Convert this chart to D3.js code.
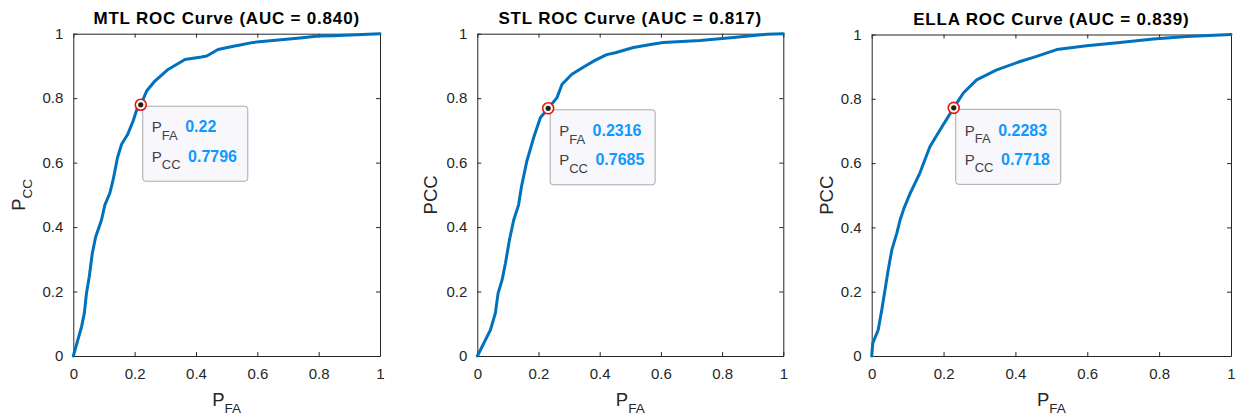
<!DOCTYPE html>
<html><head><meta charset="utf-8">
<script src="https://cdn.jsdelivr.net/npm/d3@7"></script>
<style>
body{margin:0;background:#fff}
svg{display:block}
text{font-family:"Liberation Sans",Arial,Helvetica,sans-serif}
</style>
</head><body>
<svg id="c" width="1236" height="416"></svg>
<script>
// ---------- data ----------
const titles = ["MTL ROC Curve (AUC = 0.840)", "STL ROC Curve (AUC = 0.817)", "ELLA ROC Curve (AUC = 0.839)"];
const yLabelMain = ["P", "PCC", "PCC"];
const yLabelSub = ["CC", "", ""];
const xLabelMain = "P";
const xLabelSub = "FA";
const tickValues = [0, 0.2, 0.4, 0.6, 0.8, 1];
const tickLabels = ["0", "0.2", "0.4", "0.6", "0.8", "1"];

const mtlFA = [0, 0.027, 0.036, 0.043, 0.052, 0.062, 0.073, 0.092, 0.103, 0.119, 0.130, 0.144, 0.157, 0.177, 0.195, 0.209, 0.220, 0.239, 0.266, 0.309, 0.364, 0.418, 0.435, 0.472, 0.522, 0.544, 0.587, 0.739, 0.799, 0.848, 1];
const mtlCC = [0, 0.091, 0.133, 0.195, 0.246, 0.319, 0.370, 0.422, 0.469, 0.505, 0.547, 0.615, 0.656, 0.687, 0.729, 0.770, 0.7796, 0.822, 0.853, 0.889, 0.920, 0.928, 0.931, 0.951, 0.961, 0.965, 0.973, 0.987, 0.993, 0.994, 1];

const stlFA = [0, 0.002, 0.021, 0.043, 0.059, 0.068, 0.081, 0.092, 0.105, 0.119, 0.135, 0.144, 0.162, 0.184, 0.206, 0.2316, 0.260, 0.277, 0.309, 0.353, 0.386, 0.423, 0.451, 0.510, 0.571, 0.608, 0.728, 0.837, 0.946, 1];
const stlCC = [0, 0.003, 0.039, 0.081, 0.133, 0.195, 0.236, 0.288, 0.360, 0.422, 0.469, 0.524, 0.605, 0.677, 0.739, 0.7685, 0.801, 0.843, 0.874, 0.900, 0.918, 0.935, 0.941, 0.957, 0.967, 0.973, 0.979, 0.988, 0.998, 1];

const ellaFA = [0, 0.003, 0.018, 0.028, 0.037, 0.046, 0.056, 0.070, 0.079, 0.090, 0.107, 0.134, 0.162, 0.190, 0.2283, 0.255, 0.292, 0.348, 0.413, 0.459, 0.515, 0.598, 0.691, 0.784, 0.877, 1];
const ellaCC = [0, 0.040, 0.081, 0.143, 0.205, 0.268, 0.330, 0.382, 0.423, 0.460, 0.506, 0.569, 0.651, 0.703, 0.7718, 0.818, 0.859, 0.890, 0.916, 0.932, 0.953, 0.965, 0.975, 0.986, 0.994, 1];

const tipFA = [0.22, 0.2316, 0.2283];
const tipCC = [0.7796, 0.7685, 0.7718];

// ---------- drawing ----------
const seriesFA = [mtlFA, stlFA, ellaFA];
const seriesCC = [mtlCC, stlCC, ellaCC];
const layouts = [
  {l: 73.3, r: 380, t: 33.7, b: 356, ylx: 25},
  {l: 477.3, r: 783.3, t: 33.7, b: 356, ylx: 436.7},
  {l: 871.7, r: 1231, t: 34.5, b: 356, ylx: 832.7}
];
const axisColor = "#262626";
const svg = d3.select("#c");

layouts.forEach((L, i) => {
  const g = svg.append("g");
  const x = d3.scaleLinear().domain([0, 1]).range([L.l, L.r]);
  const y = d3.scaleLinear().domain([0, 1]).range([L.b, L.t]);
  const fmt = d => tickLabels[tickValues.indexOf(d)];

  const styleAxis = sel => {
    sel.attr("font-size", 15).attr("fill", "none");
    sel.select(".domain").attr("stroke", axisColor).attr("stroke-width", 1);
    sel.selectAll(".tick line").attr("stroke", axisColor).attr("stroke-width", 1);
    sel.selectAll(".tick text").attr("fill", axisColor);
  };

  g.append("g").attr("transform", `translate(0,${L.b})`)
    .call(d3.axisBottom(x).tickValues(tickValues).tickFormat(fmt).tickSizeInner(-4).tickSizeOuter(0).tickPadding(12))
    .call(styleAxis);
  g.append("g").attr("transform", `translate(0,${L.t})`)
    .call(d3.axisTop(x).tickValues(tickValues).tickFormat("").tickSizeInner(-4).tickSizeOuter(0))
    .call(styleAxis);
  g.append("g").attr("transform", `translate(${L.l},0)`)
    .call(d3.axisLeft(y).tickValues(tickValues).tickFormat(fmt).tickSizeInner(-4).tickSizeOuter(0).tickPadding(10))
    .call(styleAxis);
  g.append("g").attr("transform", `translate(${L.r},0)`)
    .call(d3.axisRight(y).tickValues(tickValues).tickFormat("").tickSizeInner(-4).tickSizeOuter(0))
    .call(styleAxis);

  // title
  g.append("text").attr("x", (L.l + L.r) / 2).attr("y", L.t - 9.5)
    .attr("text-anchor", "middle").attr("font-weight", "bold").attr("font-size", 17)
    .attr("letter-spacing", "0.8px").attr("fill", "#000").text(titles[i]);

  // x label
  const xl = g.append("text").attr("x", (L.l + L.r) / 2).attr("y", 406)
    .attr("text-anchor", "middle").attr("fill", axisColor).attr("font-size", 18.5);
  xl.append("tspan").text(xLabelMain);
  xl.append("tspan").attr("font-size", 13.5).attr("dy", 7).text(xLabelSub);

  // y label
  const yl = g.append("text").attr("transform", `translate(${L.ylx},${(L.t + L.b) / 2}) rotate(-90)`)
    .attr("text-anchor", "middle").attr("fill", axisColor).attr("font-size", 18.5);
  yl.append("tspan").text(yLabelMain[i]);
  if (yLabelSub[i]) yl.append("tspan").attr("font-size", 13.5).attr("dy", 7).text(yLabelSub[i]);

  // curve
  const pts = seriesFA[i].map((v, k) => [v, seriesCC[i][k]]);
  g.append("path").datum(pts)
    .attr("d", d3.line().x(d => x(d[0])).y(d => y(d[1])))
    .attr("fill", "none").attr("stroke", "#0072BD").attr("stroke-width", 3)
    .attr("stroke-linejoin", "round").attr("stroke-linecap", "round");

  // datatip
  const mx = x(tipFA[i]), my = y(tipCC[i]);
  const bx = mx + 2, by = my + 1.5;
  g.append("rect").attr("x", bx).attr("y", by).attr("width", 105).attr("height", 75).attr("rx", 3)
    .attr("fill", "#f8f8fc").attr("stroke", "#a8a8a8").attr("stroke-width", 1);
  const rows = [[xLabelSub, tipFA[i], 26.2], ["CC", tipCC[i], 55.4]];
  rows.forEach(r => {
    const t = g.append("text").attr("x", bx + 9).attr("y", by + r[2]);
    t.append("tspan").attr("font-size", 15).attr("fill", "#404040").text("P");
    t.append("tspan").attr("font-size", 13).attr("fill", "#404040").attr("dy", 7.5).text(r[0]);
    t.append("tspan").attr("font-size", 16).attr("font-weight", "bold").attr("fill", "#0f99ff")
      .attr("dy", -7.5).attr("dx", 7.5).text(String(r[1]));
  });
  g.append("circle").attr("cx", mx).attr("cy", my).attr("r", 5.5)
    .attr("fill", "#fffbe8").attr("stroke", "#e8141a").attr("stroke-width", 1.6);
  g.append("circle").attr("cx", mx).attr("cy", my).attr("r", 2.6).attr("fill", "#1e1e1e");
});
</script>
</body></html>
